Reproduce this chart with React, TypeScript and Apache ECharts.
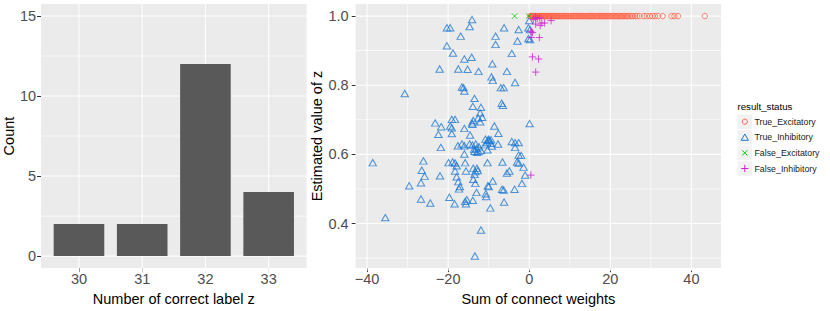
import React, { useEffect, useRef } from "react";
import * as echarts from "echarts";

// ---- Left panel data ----
const correctLabels = [30, 31, 32, 33];
const labelCounts = [2, 2, 12, 4];
const countTicks = [0, 5, 10, 15];
const countMinor = [2.5, 7.5, 12.5];
const labelMinor: number[] = [];

// ---- Right panel ticks ----
const weightTicks = [-40, -20, 0, 20, 40];
const weightMinor = [-30, -10, 10, 30];
const zTicks = [0.4, 0.6, 0.8, 1.0];
const zMinor = [0.3, 0.5, 0.7, 0.9];

const statusNames = ["True_Excitatory", "True_Inhibitory", "False_Excitatory", "False_Inhibitory"];

// ---- Right panel data ----
// True_Excitatory: sum of connect weights (all estimated z = 1.0)
const trueExcitatoryWeights = [
  0.3, 0.4, 0.6, 0.7, 0.9, 1.0, 1.1, 1.3, 1.4, 1.6, 1.7, 1.9, 2.0, 2.2, 2.4, 2.5, 2.7, 2.9, 3.0, 3.2,
  3.4, 3.6, 3.7, 3.9, 4.1, 4.3, 4.5, 4.7, 4.9, 5.1, 5.3, 5.5, 5.8, 6.0, 6.2, 6.4, 6.7, 6.9, 7.1, 7.4,
  7.6, 7.9, 8.1, 8.3, 8.6, 8.8, 9.1, 9.3, 9.6, 9.8, 10.1, 10.3, 10.6, 10.9, 11.1, 11.4, 11.6, 11.9, 12.2, 12.4,
  12.7, 13.0, 13.2, 13.5, 13.8, 14.0, 14.3, 14.6, 14.8, 15.1, 15.4, 15.6, 15.9, 16.2, 16.5, 16.7, 17.0, 17.3, 17.6, 17.9,
  18.1, 18.4, 18.7, 19.0, 19.3, 19.6, 19.9, 20.2, 20.5, 20.8, 21.1, 21.4, 21.7, 22.0, 22.3, 22.6, 22.9, 23.2, 23.5, 23.8,
  24.1, 24.4, 24.8, 25.2, 25.6, 26.1, 26.6, 27.2, 28.3, 29.0, 29.8, 30.4, 31.0, 31.8, 32.9, 35.1, 35.8, 36.7, 43.3,
];
const trueExcitatoryZ = trueExcitatoryWeights.map(() => 1.0);

const trueInhibitory: [number, number][] = [
  [-14.1, 0.990], [-20.3, 0.966], [-19.5, 0.966], [-14.7, 0.970], [-16.9, 0.942], [-20.3, 0.914],
  [-18.8, 0.893], [-14.2, 0.881], [-16.0, 0.876], [-22.1, 0.847], [-17.5, 0.847], [-15.2, 0.846],
  [-12.5, 0.840], [-8.3, 0.942], [-8.3, 0.918], [-6.2, 0.966], [-9.1, 0.862], [-5.5, 0.840],
  [-9.3, 0.824], [-9.0, 0.814], [-30.7, 0.776], [-16.6, 0.795], [-16.2, 0.793], [-16.0, 0.783],
  [-7.0, 0.793], [-6.3, 0.793], [-13.5, 0.762], [-13.9, 0.739], [-11.9, 0.736], [-12.1, 0.720],
  [-11.6, 0.707], [-12.6, 0.705], [-13.8, 0.698], [-14.1, 0.691], [-14.0, 0.687], [-12.1, 0.694],
  [-6.8, 0.748], [-6.5, 0.742], [-8.6, 0.682], [-7.6, 0.661], [-23.2, 0.691], [-21.7, 0.680],
  [-22.4, 0.658], [-19.1, 0.701], [-18.3, 0.701], [-19.5, 0.682], [-19.1, 0.677], [-19.1, 0.660],
  [-16.0, 0.675], [-14.6, 0.656], [-21.8, 0.620], [-17.6, 0.625], [-16.6, 0.630], [-16.0, 0.625],
  [-14.7, 0.630], [-14.0, 0.627], [-13.6, 0.615], [-13.2, 0.630], [-12.9, 0.606], [-16.0, 0.601],
  [-11.9, 0.611], [-10.4, 0.634], [-10.0, 0.644], [-9.4, 0.632], [-10.3, 0.613], [-7.7, 0.630],
  [-2.6, 0.961], [-2.9, 0.928], [-0.2, 0.966], [0.2, 0.961], [-0.2, 0.935], [0.2, 0.932],
  [-4.3, 0.892], [-3.5, 0.808], [0.0, 0.987], [-38.6, 0.576], [-26.1, 0.581], [-26.5, 0.554],
  [-25.8, 0.537], [-26.7, 0.518], [-29.6, 0.509], [-22.0, 0.538], [-19.9, 0.576], [0.1, 0.689],
  [-9.8, 0.640], [-9.4, 0.642], [-10.9, 0.628], [-9.2, 0.624], [-3.5, 0.634], [-2.6, 0.634],
  [-3.5, 0.620], [-2.6, 0.598], [-2.0, 0.597], [-18.9, 0.578], [-18.3, 0.575], [-17.9, 0.567],
  [-15.8, 0.576], [-10.3, 0.576], [-6.6, 0.578], [-3.0, 0.578], [-2.6, 0.575], [-1.4, 0.563],
  [-18.3, 0.552], [-15.6, 0.552], [-13.8, 0.560], [-12.9, 0.560], [-13.3, 0.550], [-12.7, 0.553],
  [-4.9, 0.552], [-5.5, 0.546], [-1.0, 0.540], [-17.9, 0.535], [-17.5, 0.521], [-13.5, 0.542],
  [-13.8, 0.528], [-13.3, 0.516], [-9.0, 0.523], [-10.2, 0.509], [-1.8, 0.516], [-26.7, 0.471],
  [-24.4, 0.459], [-35.5, 0.417], [-19.7, 0.476], [-18.4, 0.457], [-17.3, 0.500], [-17.1, 0.507],
  [-15.8, 0.464], [-15.4, 0.469], [-15.6, 0.457], [-13.9, 0.467], [-13.0, 0.490], [-11.9, 0.381],
  [-13.4, 0.306], [-10.7, 0.486], [-10.6, 0.478], [-9.6, 0.445], [-10.0, 0.507], [-6.7, 0.499],
  [-6.3, 0.497], [-6.2, 0.462], [-3.6, 0.499], [-4.3, 0.637], [-10.8, 0.644], [-10.2, 0.641],
  [-12.4, 0.622], [-13.0, 0.617], [-13.5, 0.609], [-12.5, 0.608],
];

const falseExcitatory: [number, number][] = [
  [-3.6, 1.0], [-0.1, 1.0],
];

const falseInhibitory: [number, number][] = [
  [1.5, 0.996], [2.0, 0.993], [2.6, 0.995], [1.6, 0.977], [3.1, 0.980], [3.8, 0.980], [2.7, 0.973],
  [5.4, 0.987], [0.4, 0.956], [0.8, 0.952], [0.5, 0.938], [2.5, 0.938], [0.8, 0.882], [2.3, 0.876],
  [1.6, 0.838], [0.4, 0.540], [1.0, 0.990],
];

const COL_RED = "#FF6347";
const COL_BLUE = "#1E78D2";
const COL_GREEN = "#00CD00";
const COL_MAG = "#D020D0";
const FONT = "'Liberation Sans', Arial, sans-serif";
const PANEL = "#EBEBEB";
const GRID_LINE = "#FEFEFE";
const TICK_COLOR = "#4D4D4D";

const SYM_X = "path://M0,0L10,10M10,0L0,10";
const SYM_PLUS = "path://M5,0L5,10M0,5L10,5";

const LEFT_X: [number, number] = [29.4, 33.6];
const LEFT_Y: [number, number] = [-0.75, 15.75];
const RIGHT_X: [number, number] = [-42.8, 47.3];
const RIGHT_Y: [number, number] = [0.271, 1.035];

const LEFT_W = 265.6;
const LEFT_H = 271.7;
const RIGHT_W = 365.3;
const RIGHT_H = 269.2;

// panel grid lines as thin rect symbols placed through the axes' own scales
function gridLineSeries(
  axisIndex: number,
  xRange: [number, number],
  yRange: [number, number],
  pw: number,
  ph: number,
  xMajor: number[],
  xMinor: number[],
  yMajor: number[],
  yMinor: number[]
) {
  const cx = (xRange[0] + xRange[1]) / 2;
  const cy = (yRange[0] + yRange[1]) / 2;
  const mk = (pts: number[][], size: number[]) => ({
    type: "scatter",
    xAxisIndex: axisIndex,
    yAxisIndex: axisIndex,
    z: 1,
    silent: true,
    symbol: "rect",
    symbolSize: size,
    itemStyle: { color: GRID_LINE, opacity: 1 },
    data: pts,
  });
  return [
    mk(xMinor.map((v) => [v, cy]), [0.6, ph]),
    mk(yMinor.map((v) => [cx, v]), [pw, 0.6]),
    mk(xMajor.map((v) => [v, cy]), [1.1, ph]),
    mk(yMajor.map((v) => [cx, v]), [pw, 1.1]),
  ];
}

export default function App() {
  const ref = useRef<HTMLDivElement>(null);

  useEffect(() => {
    if (!ref.current) return;
    const chart = echarts.init(ref.current, undefined, { renderer: "svg" });

    const axisTick = (vals: number[]) => ({
      show: true,
      customValues: vals,
      length: 4,
      lineStyle: { color: "#333333", width: 1 },
    });

    const legendRows = statusNames.map((name, i) => {
      const cy = 121.7 + 15.6 * i;
      const cx = 744.8;
      let sym: any;
      if (i === 0) {
        sym = { type: "circle", shape: { cx, cy, r: 2.6 }, style: { fill: "none", stroke: COL_RED, lineWidth: 1 } };
      } else if (i === 1) {
        sym = {
          type: "polygon",
          shape: { points: [[cx - 3.6, cy + 3], [cx + 3.6, cy + 3], [cx, cy - 3.3]] },
          style: { fill: "none", stroke: COL_BLUE, lineWidth: 1 },
        };
      } else if (i === 2) {
        sym = {
          type: "group",
          children: [
            { type: "line", shape: { x1: cx - 2.6, y1: cy - 2.6, x2: cx + 2.6, y2: cy + 2.6 }, style: { stroke: COL_GREEN, lineWidth: 1 } },
            { type: "line", shape: { x1: cx - 2.6, y1: cy + 2.6, x2: cx + 2.6, y2: cy - 2.6 }, style: { stroke: COL_GREEN, lineWidth: 1 } },
          ],
        };
      } else {
        sym = {
          type: "group",
          children: [
            { type: "line", shape: { x1: cx - 3.6, y1: cy, x2: cx + 3.6, y2: cy }, style: { stroke: COL_MAG, lineWidth: 1 } },
            { type: "line", shape: { x1: cx, y1: cy - 3.6, x2: cx, y2: cy + 3.6 }, style: { stroke: COL_MAG, lineWidth: 1 } },
          ],
        };
      }
      return {
        type: "group",
        children: [
          { type: "rect", shape: { x: 737.5, y: cy - 7.3, width: 14.6, height: 14.6 }, style: { fill: "#F2F2F2" } },
          sym,
          {
            type: "text",
            x: 754.5,
            y: cy,
            style: { text: name, fontSize: 8.8, fontFamily: FONT, fill: "#1A1A1A", verticalAlign: "middle", align: "left" },
          },
        ],
      };
    });

    const tickLabel = (vals: number[], fmt: (v: number) => string, margin: number) => ({
      customValues: vals,
      formatter: fmt,
      color: TICK_COLOR,
      fontSize: 14.5,
      margin,
      fontFamily: FONT,
    });

    const option: any = {
      animation: false,
      textStyle: { fontFamily: FONT },
      grid: [
        { left: 41, top: 4, width: LEFT_W, height: LEFT_H, show: true, backgroundColor: PANEL, borderWidth: 0 },
        { left: 355.7, top: 4, width: RIGHT_W, height: RIGHT_H, show: true, backgroundColor: PANEL, borderWidth: 0 },
      ],
      xAxis: [
        {
          type: "value",
          gridIndex: 0,
          min: LEFT_X[0],
          max: LEFT_X[1],
          axisLine: { show: false, onZero: false },
          axisTick: axisTick(correctLabels),
          splitLine: { show: false },
          axisLabel: tickLabel(correctLabels, (v: number) => String(v), 3),
          name: "Number of correct label z",
          nameLocation: "middle",
          nameGap: 16,
          nameTextStyle: { color: "#000000", fontSize: 14.5, fontFamily: FONT, verticalAlign: "top" },
        },
        {
          type: "value",
          gridIndex: 1,
          min: RIGHT_X[0],
          max: RIGHT_X[1],
          axisLine: { show: false, onZero: false },
          axisTick: axisTick(weightTicks),
          splitLine: { show: false },
          axisLabel: tickLabel(weightTicks, (v: number) => String(v).replace("-", "\u2212"), 3),
          name: "Sum of connect weights",
          nameLocation: "middle",
          nameGap: 18,
          nameTextStyle: { color: "#000000", fontSize: 14.5, fontFamily: FONT, verticalAlign: "top" },
        },
      ],
      yAxis: [
        {
          type: "value",
          gridIndex: 0,
          min: LEFT_Y[0],
          max: LEFT_Y[1],
          axisLine: { show: false, onZero: false },
          axisTick: axisTick(countTicks),
          splitLine: { show: false },
          axisLabel: tickLabel(countTicks, (v: number) => String(v), 5),
          name: "Count",
          nameLocation: "middle",
          nameGap: 24,
          nameRotate: 90,
          nameTextStyle: { color: "#000000", fontSize: 14.5, fontFamily: FONT },
        },
        {
          type: "value",
          gridIndex: 1,
          min: RIGHT_Y[0],
          max: RIGHT_Y[1],
          axisLine: { show: false, onZero: false },
          axisTick: axisTick(zTicks),
          splitLine: { show: false },
          axisLabel: tickLabel(zTicks, (v: number) => v.toFixed(1), 7),
          name: "Estimated value of z",
          nameLocation: "middle",
          nameGap: 23,
          nameRotate: 90,
          nameTextStyle: { color: "#000000", fontSize: 14.5, fontFamily: FONT },
        },
      ],
      series: [
        ...gridLineSeries(0, LEFT_X, LEFT_Y, LEFT_W, LEFT_H, correctLabels, labelMinor, countTicks, countMinor),
        ...gridLineSeries(1, RIGHT_X, RIGHT_Y, RIGHT_W, RIGHT_H, weightTicks, weightMinor, zTicks, zMinor),
        {
          type: "bar",
          xAxisIndex: 0,
          yAxisIndex: 0,
          barWidth: 50.6,
          z: 20,
          itemStyle: { color: "#595959" },
          data: correctLabels.map((c, i) => [c, labelCounts[i]]),
        },
        {
          type: "scatter",
          name: statusNames[1],
          xAxisIndex: 1,
          yAxisIndex: 1,
          z: 20,
          symbol: "triangle",
          symbolSize: [7.4, 6.4],
          itemStyle: { color: "rgba(0,0,0,0)", borderColor: COL_BLUE, borderWidth: 1 },
          data: trueInhibitory,
        },
        {
          type: "scatter",
          name: statusNames[0],
          xAxisIndex: 1,
          yAxisIndex: 1,
          z: 21,
          symbol: "circle",
          symbolSize: 5.4,
          itemStyle: { color: "rgba(0,0,0,0)", borderColor: COL_RED, borderWidth: 1 },
          data: trueExcitatoryWeights.map((w, i) => [w, trueExcitatoryZ[i]]),
        },
        {
          type: "scatter",
          name: statusNames[2],
          xAxisIndex: 1,
          yAxisIndex: 1,
          z: 22,
          symbol: SYM_X,
          symbolSize: 5.5,
          itemStyle: { color: "rgba(0,0,0,0)", borderColor: COL_GREEN, borderWidth: 1 },
          data: falseExcitatory,
        },
        {
          type: "scatter",
          name: statusNames[3],
          xAxisIndex: 1,
          yAxisIndex: 1,
          z: 23,
          symbol: SYM_PLUS,
          symbolSize: 7.4,
          itemStyle: { color: "rgba(0,0,0,0)", borderColor: COL_MAG, borderWidth: 1 },
          data: falseInhibitory,
        },
      ],
      graphic: [
        {
          type: "text",
          x: 737.5,
          y: 106,
          style: { text: "result_status", fontSize: 9.7, fontFamily: FONT, fill: "#000000", verticalAlign: "middle", align: "left" },
        },
        ...legendRows,
      ],
    };

    chart.setOption(option);
    return () => chart.dispose();
  }, []);

  return (
    <div
      ref={ref}
      style={{ position: "absolute", left: 0, top: 0, width: 830, height: 311, background: "#FFFFFF" }}
    />
  );
}
